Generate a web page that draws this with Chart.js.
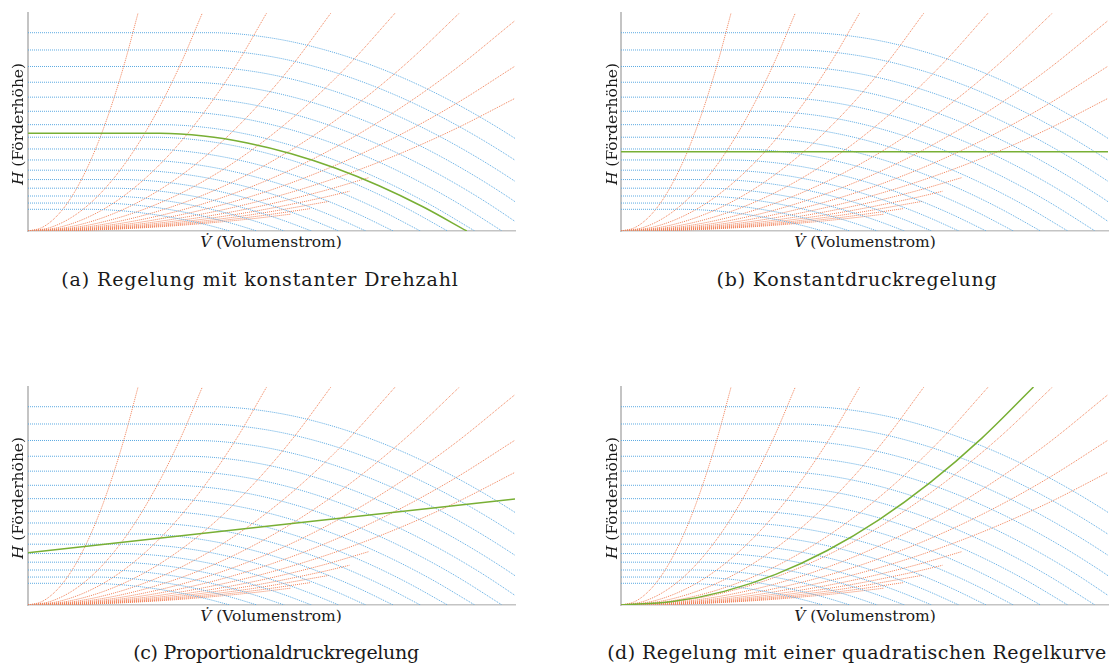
<!DOCTYPE html>
<html>
<head>
<meta charset="utf-8">
<script src="https://cdn.jsdelivr.net/npm/chart.js@4.4.1/dist/chart.umd.min.js"></script>
<style>
  html, body { margin: 0; padding: 0; background: #fff; }
  body { width: 1115px; height: 664px; position: relative; overflow: hidden;
         font-family: "DejaVu Serif", serif; color: #1a1a1a; }
  .panel { position: absolute; }
  .lbl { position: absolute; white-space: nowrap; transform: translate(-50%, -50%); }
  .ylbl { transform: translate(-50%, -50%) rotate(-90deg); }
  .axis { font-size: 15.5px; }
  .cap { font-size: 19px; }
</style>
</head>
<body>

<canvas class="panel" id="chartA" width="491" height="222" style="left:26px;top:11px"></canvas>
<canvas class="panel" id="chartB" width="491" height="222" style="left:619px;top:11px"></canvas>
<canvas class="panel" id="chartC" width="491" height="222" style="left:26px;top:385px"></canvas>
<canvas class="panel" id="chartD" width="491" height="222" style="left:619px;top:385px"></canvas>

<div class="lbl axis" style="left:271px;top:242px"><i>V&#775;</i> (Volumenstrom)</div>
<div class="lbl axis" style="left:865px;top:242px"><i>V&#775;</i> (Volumenstrom)</div>
<div class="lbl axis" style="left:271px;top:616px"><i>V&#775;</i> (Volumenstrom)</div>
<div class="lbl axis" style="left:865px;top:616px"><i>V&#775;</i> (Volumenstrom)</div>

<div class="lbl axis ylbl" style="left:18px;top:124px"><i>H</i> (Förderhöhe)</div>
<div class="lbl axis ylbl" style="left:612px;top:124px"><i>H</i> (Förderhöhe)</div>
<div class="lbl axis ylbl" style="left:18px;top:498px"><i>H</i> (Förderhöhe)</div>
<div class="lbl axis ylbl" style="left:612px;top:498px"><i>H</i> (Förderhöhe)</div>

<div class="lbl cap" style="left:260px;top:279px;letter-spacing:0.9px">(a) Regelung mit konstanter Drehzahl</div>
<div class="lbl cap" style="left:857px;top:279px;letter-spacing:0.8px">(b) Konstantdruckregelung</div>
<div class="lbl cap" style="left:276px;top:652px;letter-spacing:-0.3px">(c) Proportionaldruckregelung</div>
<div class="lbl cap" style="left:857px;top:652px;letter-spacing:0.45px">(d) Regelung mit einer quadratischen Regelkurve</div>

<script>
// Axis ranges (flow and head in relative units)
const flowRange = [0, 100];
const headRange = [0, 100];

// Pump characteristics at 16 speeds, [flow, head] pairs, lowest speed first
const pump01 = [[0, 9.95], [12.44, 9.95], [16.58, 9.68], [20.73, 8.97], [24.87, 7.87], [29.02, 6.42], [33.16, 4.61], [37.31, 2.47], [41.45, 0]];
const pump02 = [[0, 12.82], [14.11, 12.82], [18.81, 12.47], [23.52, 11.56], [28.22, 10.15], [32.92, 8.27], [37.62, 5.94], [42.33, 3.18], [47.03, 0]];
const pump03 = [[0, 16.05], [15.79, 16.05], [21.05, 15.61], [26.32, 14.47], [31.58, 12.70], [36.84, 10.35], [42.10, 7.44], [47.37, 3.98], [52.63, 0]];
const pump04 = [[0, 19.64], [17.47, 19.64], [23.29, 19.10], [29.11, 17.71], [34.93, 15.54], [40.75, 12.67], [46.58, 9.10], [52.40, 4.87], [58.22, 0]];
const pump05 = [[0, 23.59], [19.14, 23.59], [25.52, 22.95], [31.91, 21.27], [38.29, 18.67], [44.67, 15.21], [51.05, 10.93], [57.43, 5.85], [63.81, 0]];
const pump06 = [[0, 27.90], [20.82, 27.90], [27.76, 27.14], [34.70, 25.15], [41.63, 22.08], [48.57, 17.99], [55.51, 12.93], [62.45, 6.92], [69.39, 0]];
const pump07 = [[0, 32.58], [22.50, 32.58], [30.00, 31.69], [37.50, 29.37], [44.99, 25.78], [52.49, 21.01], [59.99, 15.10], [67.49, 8.08], [74.99, 0]];
const pump08 = [[0, 37.62], [24.17, 37.62], [32.23, 36.59], [40.29, 33.91], [48.35, 29.77], [56.41, 24.26], [64.46, 17.43], [72.52, 9.33], [80.58, 0]];
const pump09 = [[0, 43.02], [25.85, 43.02], [34.46, 41.85], [43.08, 38.78], [51.70, 34.05], [60.31, 27.74], [68.93, 19.94], [77.54, 10.67], [86.16, 0]];
const pump10 = [[0, 48.78], [27.53, 48.78], [36.70, 47.45], [45.88, 43.98], [55.05, 38.60], [64.23, 31.46], [73.40, 22.60], [82.58, 12.10], [91.75, 0]];
const pump11 = [[0, 54.91], [29.21, 54.91], [38.94, 53.41], [48.68, 49.50], [58.41, 43.46], [68.15, 35.41], [77.88, 25.45], [87.62, 13.62], [97.35, 0]];
const pump12 = [[0, 61.40], [30.88, 61.40], [41.18, 59.72], [51.47, 55.35], [61.76, 48.59], [72.06, 39.60], [82.35, 28.45], [92.65, 15.23], [102.94, 0]];
const pump13 = [[0, 68.24], [32.56, 68.24], [43.41, 66.38], [54.26, 61.52], [65.11, 54.00], [75.96, 44.01], [86.82, 31.62], [97.67, 16.93], [108.52, 0]];
const pump14 = [[0, 75.46], [34.23, 75.46], [45.64, 73.40], [57.06, 68.03], [68.47, 59.72], [79.88, 48.66], [91.29, 34.97], [102.70, 18.72], [114.11, 0]];
const pump15 = [[0, 83.03], [35.91, 83.03], [47.88, 80.76], [59.86, 74.85], [71.83, 65.71], [83.80, 53.55], [95.77, 38.48], [107.74, 20.60], [119.71, 0]];
const pump16 = [[0, 90.96], [37.59, 90.96], [50.12, 88.48], [62.65, 82.00], [75.17, 71.99], [87.70, 58.66], [100.23, 42.15], [112.76, 22.57], [125.29, 0]];

// System characteristics (parabolas through the origin), [flow, head] pairs
const system01 = [[0, 0], [2.83, 1.56], [5.65, 6.25], [8.48, 14.06], [11.30, 25.00], [14.13, 39.06], [16.95, 56.25], [19.78, 76.56], [22.60, 100]];
const system02 = [[0, 0], [4.48, 1.56], [8.95, 6.25], [13.43, 14.06], [17.90, 25.00], [22.38, 39.06], [26.85, 56.25], [31.33, 76.56], [35.80, 100]];
const system03 = [[0, 0], [6.13, 1.56], [12.25, 6.25], [18.38, 14.06], [24.50, 25.00], [30.63, 39.06], [36.75, 56.25], [42.88, 76.56], [49.00, 100]];
const system04 = [[0, 0], [7.78, 1.56], [15.55, 6.25], [23.33, 14.06], [31.10, 25.00], [38.88, 39.06], [46.65, 56.25], [54.43, 76.56], [62.20, 100]];
const system05 = [[0, 0], [9.43, 1.56], [18.85, 6.25], [28.28, 14.06], [37.70, 25.00], [47.13, 39.06], [56.55, 56.25], [65.98, 76.56], [75.40, 100]];
const system06 = [[0, 0], [11.08, 1.56], [22.15, 6.25], [33.23, 14.06], [44.30, 25.00], [55.38, 39.06], [66.45, 56.25], [77.53, 76.56], [88.60, 100]];
const system07 = [[0, 0], [12.5, 1.51], [25, 6.03], [37.5, 13.57], [50, 24.12], [62.5, 37.69], [75, 54.28], [87.5, 73.88], [100, 96.49]];
const system08 = [[0, 0], [12.5, 1.18], [25, 4.73], [37.5, 10.63], [50, 18.90], [62.5, 29.54], [75, 42.53], [87.5, 57.89], [100, 75.61]];
const system09 = [[0, 0], [12.5, 0.95], [25, 3.80], [37.5, 8.56], [50, 15.21], [62.5, 23.77], [75, 34.22], [87.5, 46.58], [100, 60.84]];
const system10 = [[0, 0], [15, 1.13], [30, 4.50], [45, 10.13], [60, 18.01], [70, 24.50]];
const system11 = [[0, 0], [15, 0.94], [30, 3.77], [45, 8.47], [60, 15.06], [66, 18.22]];
const system12 = [[0, 0], [15, 0.80], [30, 3.20], [45, 7.19], [62, 13.65]];
const system13 = [[0, 0], [15, 0.69], [30, 2.75], [45, 6.18], [58, 10.27]];
const system14 = [[0, 0], [15, 0.60], [30, 2.39], [45, 5.37], [54, 7.73]];

// Control curves drawn in green, one per panel
const controlConstantSpeed = [[0, 44.8], [27.03, 44.8], [36.04, 43.58], [45.05, 40.39], [54.06, 35.45], [63.07, 28.89], [72.08, 20.76], [81.09, 11.11], [90.1, 0]];
const controlConstantPressure = [[0, 36.4], [100, 36.4]];
const controlProportional = [[0, 24.0], [100, 48.6]];
const controlQuadratic = [[0, 0], [10.59, 1.56], [21.18, 6.25], [31.76, 14.06], [42.35, 25.00], [52.94, 39.06], [63.53, 56.25], [74.11, 76.56], [84.7, 100]];

const pumpCurves = [pump01, pump02, pump03, pump04, pump05, pump06, pump07, pump08,
                    pump09, pump10, pump11, pump12, pump13, pump14, pump15, pump16];
const systemCurves = [system01, system02, system03, system04, system05, system06, system07,
                      system08, system09, system10, system11, system12, system13, system14];

const PUMP_COLOR = 'rgb(92, 170, 226)';
const SYSTEM_COLOR = 'rgb(240, 128, 88)';
const CONTROL_COLOR = 'rgb(120, 175, 52)';

const toPoints = arr => arr.map(([x, y]) => ({ x, y }));

function curveDataset(points, color, dotted, width) {
  return {
    data: toPoints(points),
    borderColor: color,
    borderWidth: width,
    borderDash: dotted ? [1, 1] : [],
    pointRadius: 0,
    fill: false,
    cubicInterpolationMode: 'monotone'
  };
}

function buildChart(id, control) {
  const datasets = [curveDataset(control, CONTROL_COLOR, false, 1.5)];
  pumpCurves.forEach(c => datasets.push(curveDataset(c, PUMP_COLOR, true, 1)));
  systemCurves.forEach(c => datasets.push(curveDataset(c, SYSTEM_COLOR, true, 1)));

  new Chart(document.getElementById(id), {
    type: 'line',
    data: { datasets },
    options: {
      responsive: false,
      animation: false,
      events: [],
      layout: { padding: 2, autoPadding: false },
      plugins: { legend: { display: false }, tooltip: { enabled: false } },
      scales: {
        x: {
          type: 'linear', min: flowRange[0], max: flowRange[1],
          grid: { display: false, drawTicks: false },
          ticks: { display: false },
          border: { display: true, color: '#c4c4c4', width: 1.5 }
        },
        y: {
          type: 'linear', min: headRange[0], max: headRange[1],
          grid: { display: false, drawTicks: false },
          ticks: { display: false },
          border: { display: true, color: '#c4c4c4', width: 2 }
        }
      }
    }
  });
}

buildChart('chartA', controlConstantSpeed);
buildChart('chartB', controlConstantPressure);
buildChart('chartC', controlProportional);
buildChart('chartD', controlQuadratic);
</script>
</body>
</html>
